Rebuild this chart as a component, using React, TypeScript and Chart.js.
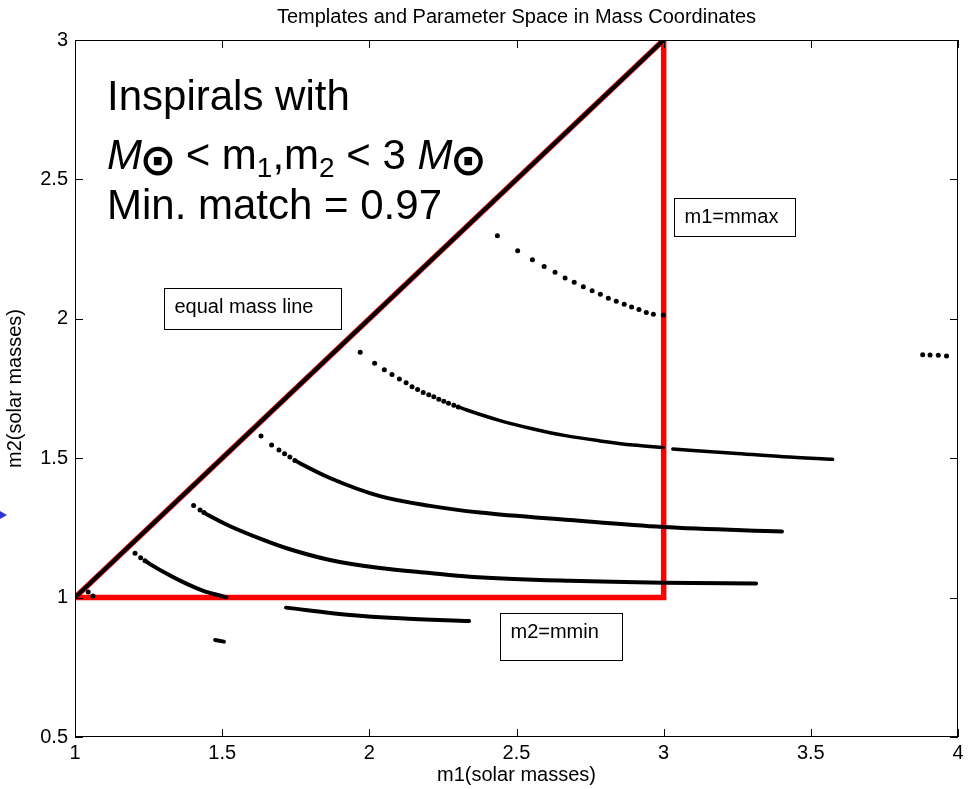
import { useEffect, useRef } from "react";
import { Chart, registerables } from "chart.js";

Chart.register(...registerables);

const FONT = '"Liberation Sans", Arial, Helvetica, sans-serif';

// Axis ranges and ticks
const xTicks = [1, 1.5, 2, 2.5, 3, 3.5, 4];
const yTicks = [0.5, 1, 1.5, 2, 2.5, 3];

// Parameter-space boundary: equal-mass line, m1 = mmax, m2 = mmin
const boundaryM1 = [1, 3, 3, 1];
const boundaryM2 = [1, 3, 1, 1];

// Equal-mass templates
const equalM1 = [1, 3];
const equalM2 = [1, 3];

// Template row A (sparse, all dots)
const rowAM1 = [2.435, 2.504, 2.554, 2.594, 2.631, 2.665, 2.696, 2.727, 2.757, 2.785, 2.812, 2.839, 2.866, 2.891, 2.916, 2.941, 2.965, 2.999];
const rowAM2 = [2.298, 2.244, 2.212, 2.188, 2.167, 2.146, 2.131, 2.115, 2.101, 2.088, 2.074, 2.063, 2.052, 2.042, 2.033, 2.023, 2.016, 2.014];

// Template row B
const rowBHeadM1 = [1.969, 2.018, 2.051, 2.077, 2.102, 2.125, 2.145, 2.164, 2.183, 2.202, 2.219, 2.236, 2.253, 2.269, 2.287, 2.302];
const rowBHeadM2 = [1.880, 1.841, 1.817, 1.800, 1.784, 1.771, 1.756, 1.746, 1.736, 1.728, 1.720, 1.711, 1.704, 1.697, 1.690, 1.684];
const rowBBodyM1 = [2.302, 2.331, 2.444, 2.557, 2.671, 2.784, 2.897, 2.998];
const rowBBodyM2 = [1.684, 1.673, 1.635, 1.605, 1.580, 1.562, 1.547, 1.538];
const rowBTailM1 = [3.031, 3.237, 3.406, 3.574];
const rowBTailM2 = [1.533, 1.518, 1.505, 1.496];

// Template row C
const rowCHeadM1 = [1.632, 1.668, 1.693, 1.712, 1.730, 1.747];
const rowCHeadM2 = [1.580, 1.547, 1.529, 1.516, 1.504, 1.492];
const rowCBodyM1 = [1.747, 1.764, 1.866, 2.036, 2.206, 2.376, 2.682, 2.998, 3.402];
const rowCBodyM2 = [1.492, 1.482, 1.429, 1.364, 1.329, 1.305, 1.278, 1.253, 1.237];

// Template row D
const rowDHeadM1 = [1.403, 1.425, 1.438];
const rowDHeadM2 = [1.330, 1.314, 1.305];
const rowDBodyM1 = [1.438, 1.452, 1.527, 1.640, 1.719, 1.866, 2.036, 2.206, 2.342, 2.682, 2.998, 3.314];
const rowDBodyM2 = [1.305, 1.296, 1.256, 1.207, 1.177, 1.135, 1.106, 1.088, 1.075, 1.060, 1.053, 1.051];

// Template row E
const rowEHeadM1 = [1.204, 1.223, 1.238];
const rowEHeadM2 = [1.159, 1.143, 1.132];
const rowEBodyM1 = [1.238, 1.255, 1.323, 1.380, 1.436, 1.515];
const rowEBodyM2 = [1.132, 1.120, 1.079, 1.049, 1.024, 1.001];

// Smallest row near the corner
const rowFM1 = [1.045, 1.061];
const rowFM2 = [1.020, 1.006];

// Rows below m2 = mmin
const rowGM1 = [1.717, 1.934, 2.104, 2.339];
const rowGM2 = [0.964, 0.938, 0.926, 0.916];
const rowHM1 = [1.476, 1.506];
const rowHM2 = [0.848, 0.842];

// Stray templates at the far right
const rowIM1 = [3.880, 3.905, 3.933, 3.961];
const rowIM2 = [1.871, 1.870, 1.869, 1.867];

const zip = (xs: number[], ys: number[]) => xs.map((x, i) => ({ x, y: ys[i] }));

const dots = (xs: number[], ys: number[]) => ({
  data: zip(xs, ys),
  showLine: false,
  pointRadius: 2.5,
  pointBackgroundColor: "#000",
  pointBorderWidth: 0,
  order: 1,
});

const band = (xs: number[], ys: number[], w = 4) => ({
  data: zip(xs, ys),
  showLine: true,
  borderColor: "#000",
  borderWidth: w,
  borderCapStyle: "round" as const,
  cubicInterpolationMode: "monotone" as const,
  pointRadius: 0,
  order: 1,
});

const decorations = {
  id: "decorations",
  afterDatasetsDraw(chart: any) {
    const { ctx, chartArea: a } = chart;
    ctx.save();
    // axes box
    ctx.strokeStyle = "#000";
    ctx.lineWidth = 1;
    ctx.strokeRect(a.left + 0.5, a.top + 0.5, a.right - a.left - 1, a.bottom - a.top - 1);
    // inward ticks on all four sides
    const xs = chart.scales.x;
    const ys = chart.scales.y;
    const len = 8;
    ctx.beginPath();
    xTicks.forEach((v) => {
      const px = Math.round(xs.getPixelForValue(v)) + 0.5;
      ctx.moveTo(px, a.bottom);
      ctx.lineTo(px, a.bottom - len);
      ctx.moveTo(px, a.top);
      ctx.lineTo(px, a.top + len);
    });
    yTicks.forEach((v) => {
      const py = Math.round(ys.getPixelForValue(v)) + 0.5;
      ctx.moveTo(a.left, py);
      ctx.lineTo(a.left + len, py);
      ctx.moveTo(a.right, py);
      ctx.lineTo(a.right - len, py);
    });
    ctx.stroke();
    ctx.restore();
  },
  afterDraw(chart: any) {
    const { ctx, chartArea: a } = chart;
    const xs = chart.scales.x;
    const ys = chart.scales.y;
    const X = (v: number) => xs.getPixelForValue(v);
    const Y = (v: number) => ys.getPixelForValue(v);
    ctx.save();
    ctx.fillStyle = "#000";
    ctx.strokeStyle = "#000";

    // chart title, centred over the axes
    ctx.font = `20px ${FONT}`;
    ctx.textAlign = "center";
    ctx.textBaseline = "middle";
    ctx.fillText("Templates and Parameter Space in Mass Coordinates", (a.left + a.right) / 2, 17);

    // labelled boxes
    ctx.textAlign = "left";
    const boxes = [
      { text: "m1=mmax", x0: 3.035, x1: 3.446, y0: 2.433, y1: 2.297 },
      { text: "equal mass line", x0: 1.302, x1: 1.904, y0: 2.110, y1: 1.963 },
      { text: "m2=mmin", x0: 2.444, x1: 2.858, y0: 0.945, y1: 0.776 },
    ];
    ctx.font = `20px ${FONT}`;
    ctx.lineWidth = 1;
    boxes.forEach((b) => {
      const l = Math.round(X(b.x0)) + 0.5;
      const t = Math.round(Y(b.y0)) + 0.5;
      const r = Math.round(X(b.x1)) + 0.5;
      const bt = Math.round(Y(b.y1)) + 0.5;
      ctx.fillStyle = "#fff";
      ctx.fillRect(l, t, r - l, bt - t);
      ctx.strokeRect(l, t, r - l, bt - t);
      ctx.fillStyle = "#000";
      ctx.fillText(b.text, l + 10, t + 19);
    });

    // headline text
    ctx.textBaseline = "alphabetic";
    const left = 107;
    ctx.font = `42px ${FONT}`;
    ctx.fillText("Inspirals with", left, 110);

    const base = 169;
    let cx = left;
    const seg = (t: string, font: string, dy = 0) => {
      ctx.font = font;
      ctx.textAlign = "left";
      ctx.textBaseline = "alphabetic";
      ctx.fillText(t, cx, base + dy);
      cx += ctx.measureText(t).width;
    };
    const sun = () => {
      ctx.font = `bold 44px "DejaVu Sans"`;
      ctx.textAlign = "center";
      ctx.textBaseline = "middle";
      ctx.fillText("\u2299", cx + 16, base - 5);
      cx += 32;
    };
    seg("M", `italic 42px ${FONT}`);
    sun();
    seg(" < m", `42px ${FONT}`);
    seg("1", `28px ${FONT}`, 8);
    seg(",m", `42px ${FONT}`);
    seg("2", `28px ${FONT}`, 8);
    seg(" < 3 ", `42px ${FONT}`);
    seg("M", `italic 42px ${FONT}`);
    sun();

    ctx.font = `42px ${FONT}`;
    ctx.textAlign = "left";
    ctx.textBaseline = "alphabetic";
    ctx.fillText("Min. match = 0.97", left, 219);

    // small pointer at the left margin
    ctx.fillStyle = "rgb(50,50,215)";
    ctx.beginPath();
    ctx.moveTo(0, 511);
    ctx.lineTo(7, 515);
    ctx.lineTo(0, 519);
    ctx.closePath();
    ctx.fill();
    ctx.restore();
  },
};

export default function App() {
  const ref = useRef<HTMLCanvasElement | null>(null);

  useEffect(() => {
    if (!ref.current) return;
    const chart = new Chart(ref.current, {
      type: "scatter",
      data: {
        datasets: [
          dots(rowAM1, rowAM2),
          dots(rowBHeadM1, rowBHeadM2),
          band(rowBBodyM1, rowBBodyM2, 3.5),
          band(rowBTailM1, rowBTailM2, 3.5),
          dots(rowCHeadM1, rowCHeadM2),
          band(rowCBodyM1, rowCBodyM2),
          dots(rowDHeadM1, rowDHeadM2),
          band(rowDBodyM1, rowDBodyM2),
          dots(rowEHeadM1, rowEHeadM2),
          band(rowEBodyM1, rowEBodyM2),
          dots(rowFM1, rowFM2),
          band(rowGM1, rowGM2),
          band(rowHM1, rowHM2),
          dots(rowIM1, rowIM2),
          {
            data: zip(equalM1, equalM2),
            showLine: true,
            borderColor: "#000",
            borderWidth: 4,
            pointRadius: 0,
            order: 2,
          },
          {
            data: zip(boundaryM1, boundaryM2),
            showLine: true,
            borderColor: "#ff0000",
            borderWidth: 5.5,
            borderJoinStyle: "miter",
            pointRadius: 0,
            order: 3,
          },
        ] as any,
      },
      options: {
        animation: false,
        responsive: true,
        maintainAspectRatio: false,
        layout: { padding: { left: 0, right: 11, top: 40, bottom: 0 } },
        plugins: {
          legend: { display: false },
          tooltip: { enabled: false },
          title: { display: false },
        },
        scales: {
          x: {
            type: "linear",
            min: 1,
            max: 4,
            afterFit: (s: any) => {
              s.height = 52;
              s.paddingLeft = 0;
              s.paddingRight = 0;
            },
            afterBuildTicks: (s: any) => {
              s.ticks = xTicks.map((v) => ({ value: v }));
            },
            grid: { display: false, drawTicks: false },
            border: { display: false },
            ticks: {
              color: "#000",
              padding: 4,
              font: { family: FONT, size: 20 },
              maxRotation: 0,
              callback: (v: any) => String(v),
            },
            title: {
              display: true,
              text: "m1(solar masses)",
              color: "#000",
              font: { family: FONT, size: 20 },
              padding: { top: 0, bottom: 2 },
            },
          },
          y: {
            type: "linear",
            min: 0.5,
            max: 3,
            afterFit: (s: any) => {
              s.width = 75;
              s.paddingTop = 0;
              s.paddingBottom = 0;
            },
            afterBuildTicks: (s: any) => {
              s.ticks = yTicks.map((v) => ({ value: v }));
            },
            grid: { display: false, drawTicks: false },
            border: { display: false },
            ticks: {
              color: "#000",
              padding: 7,
              font: { family: FONT, size: 20 },
              callback: (v: any) => String(v),
            },
            title: {
              display: true,
              text: "m2(solar masses)",
              color: "#000",
              font: { family: FONT, size: 20 },
              padding: { top: 3, bottom: 0 },
            },
          },
        },
      },
      plugins: [decorations],
    });
    return () => chart.destroy();
  }, []);

  return (
    <div style={{ position: "absolute", left: 0, top: 0, width: 969, height: 789, background: "#fff" }}>
      <canvas ref={ref} />
    </div>
  );
}
